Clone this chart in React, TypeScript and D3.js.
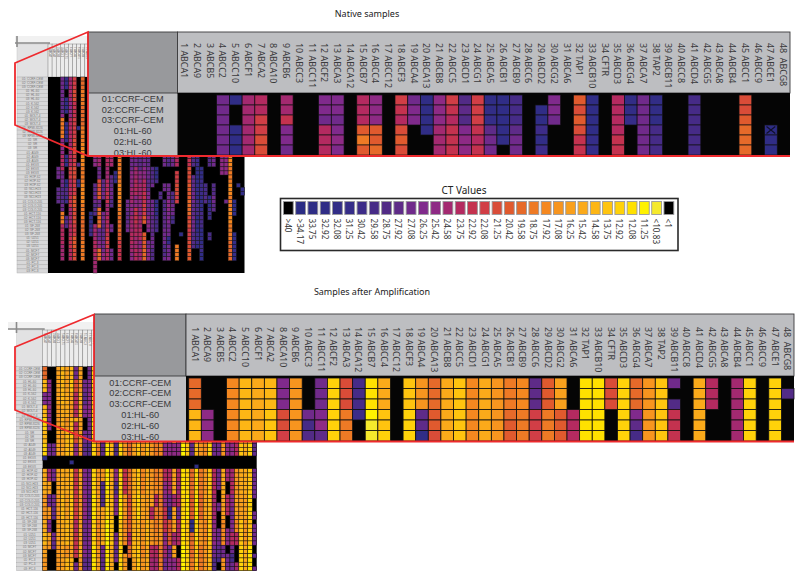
import React from "react";
import * as d3 from "d3";

const genes = ["1 ABCA1","2 ABCA9","3 ABCB5","4 ABCC2","5 ABCC10","6 ABCF1","7 ABCA2","8 ABCA10","9 ABCB6","10 ABCC3","11 ABCC11","12 ABCF2","13 ABCA3","14 ABCA12","15 ABCB7","16 ABCC4","17 ABCC12","18 ABCF3","19 ABCA4","20 ABCA13","21 ABCB8","22 ABCC5","23 ABCD1","24 ABCG1","25 ABCA5","26 ABCB1","27 ABCB9","28 ABCC6","29 ABCD2","30 ABCG2","31 ABCA6","32 TAP1","33 ABCB10","34 CFTR","35 ABCD3","36 ABCG4","37 ABCA7","38 TAP2","39 ABCB11","40 ABCC8","41 ABCD4","42 ABCG5","43 ABCA8","44 ABCB4","45 ABCC1","46 ABCC9","47 ABCE1","48  ABCG8"];
const panelRows = ["01:CCRF-CEM","02:CCRF-CEM","03:CCRF-CEM","01:HL-60","02:HL-60","03:HL-60"];
const thumbLines = ["CCRF-CEM","HL-60","K-562","MOLT-4","RPMI-8226","SR","A549","EKVX","HOP-62","NCI-H23","COLO-205","HCT-116","SF-268","U251","MCF7","PC-3"];
const ctLabels = [">40",">34.17","33.75","32.92","32.08","31.25","30.42","29.58","28.75","27.92","27.08","26.25","25.42","24.58","23.75","22.92","22.08","21.25","20.42","19.58","18.75","17.92","17.08","16.25","15.42","14.58","13.75","12.92","12.08","11.25","<10.83","<1"];
const ctColors = ["#000000","#2b2d84","#2e2d85","#302d86","#322d86","#352d88","#3d2c88","#462b87","#522b86","#5e2b88","#702a8b","#802a8c","#8e2a85","#a32970","#b42a60","#c4324f","#d13e46","#d94c38","#e05a2e","#e66a2a","#ee7a25","#f58820","#f7951f","#f9a01d","#fbaa1a","#fdb615","#ffc40f","#ffd20a","#ffe100","#fff200","#f5e92c","#000000"];

const nativeMain = ["000000","000000","000000","aaaaaa","300333","dddddd","eegghh","000000","ddfbba","000000","000000","bbaeee","bbabcb","000000","eeeiki","ccciij","000000","gfehih","abb000","333300","cccddd","gfefff","898bcc","gggfef","3459aa","333440","7779aa","000000","033646","bba000","000000","ihihff","333355","000000","eeeeff","445000","aaaaaa","444777","000000","000000","777777","000000","000000","000000","hhijjj","000000","000232","000000"];
const amplifiedMain = ["jjjppp","000ccc","000000","llllll","pppppp","oooooo","pppqqq","bbbhhg","mmmmmm","000a78","aaabc9","rrrrrr","hhhkkk","777600","ssstuu","oooqqr","000000","qqqrrr","mmm993","jjjiih","oooooo","qqqqqq","llllll","oooooo","mmmmmm","kkkjii","lllkkk","999ggg","iiikkk","nnniii","000eee","ssssss","ssssss","hhh000","rrrrrr","jjjb97","mmmmmm","qqqqqq","a08fff","000000","oooooo","eee000","000000","dddddd","rrrrrr","000000","rrrrrr","080000"];

const nativeThumb = [
"0.48","0.48","0.22 a.3 0.2 9.4 0.17","a.6 9.3 c.1 k.5 c.4 e.4 a.4 8.4 a.2 k.3 e.5 d.4 0.3",
"4.3 0.2 4.4 0.2 4.5 0.3 5.3 0.3 3.2 8.2 6.2 0.3 8.3 0.11","d.6 c.4 e.5 d.4 e.3 g.3 e.4 f.3 d.4 e.3 f.3 e.3 0.3",
"g.3 h.3 f.4 g.5 h.4 g.3 h.3 g.4 i.3 h.4 g.3 i.3 h.3 0.3","0.12 3.1 0.8 8.1 0.3 3.2 0.21","j.3 k.4 j.5 k.4 l.6 k.4 l.5 k.4 j.5 k.5 0.3","0.48",
"0.33 4.4 6.2 0.9","0.18 c.4 0.4 9.3 a.2 8.3 0.2 d.4 e.4 d.5 0.3","0.19 d.3 a.3 h.3 i.2 a.2 j.5 a.3 c.2 j.3 0.3","0.25 9.3 a.2 0.3 a.3 9.4 a.3 c.2 0.3",
"0.19 e.3 d.3 e.3 f.3 d.3 e.3 f.2 g.3 e.3 0.3","0.19 d.3 0.2 9.3 a.3 8.2 0.4 a.2 0.4 a.3 0.3","0.23 4.3 0.22","0.19 k.3 k.4 l.4 k.4 j.4 i.2 g.2 f.3 0.3","0.48","0.30 a.3 9.3 a.2 0.10",
"0.19 a.4 c.4 d.4 c.3 d.4 e.3 d.2 c.2 0.3","0.19 a.3 d.3 e.4 c.3 f.4 e.3 d.3 e.3 0.3","0.19 9.4 c.3 d.4 c.4 d.3 e.3 c.2 d.3 0.3","0.19 a.3 c.3 e.3 f.3 g.3 i.2 0.2 i.4 j.3 0.3",
"0.19 9.3 a.3 9.3 b.3 a.3 c.3 b.1 0.2 a.2 c.3 0.3","0.22 8.4 a.1 0.3 a.4 9.5 a.3 8.3 0.3","0.22 4.3 7.1 0.4 4.4 7.4 0.10","0.28 8.2 0.18","0.19 a.3 0.4 a.2 0.2 8.3 9.4 a.4 8.3 a.1 0.3","0.19 8.3 0.4 a.4 c.3 b.3 a.3 5.2 a.3 b.1 0.3",
"0.19 a.3 0.6 8.3 a.3 7.2 0.12","0.19 e.3 0.1 g.3 h.3 g.2 0.10 k.4 0.3","0.38 3.1 0.9","0.48","0.19 f.3 h.4 i.4 j.4 h.3 g.3 h.2 i.3 0.3","0.19 8.3 0.2 9.4 a.3 9.3 a.4 8.4 0.6","0.19 6.3 4.4 5.4 7.4 4.4 6.3 3.1 0.6",
"0.22 4.3 6.4 5.4 7.4 4.4 6.2 3.2 0.3","0.26 7.3 8.2 0.17","0.19 8.3 0.7 4.2 2.1 6.3 0.3 7.2 0.8","0.19 a.3 0.4 8.3 a.2 9.2 0.15","0.48","0.19 c.3 c.2 0.24","0.19 c.3 c.2 0.6 a.1 0.17",
"j.6 k.5 j.8 l.3 k.4 l.3 k.3 l.4 k.4 j.5 0.3","0.30 3.4 0.4 4.2 5.5 0.3","0.26 4.1 0.21","0.27 4.2 0.19"
];
const amplifiedThumb = [
"j.3 p.3 b.3 p.3 r.3 p.3 r.3 3.1 0.2 o.6 m.6 o.3 p.3 n.3 m.3","0.3 c.3 b.3 c.3 b.3 0.3 a.3 0.3 d.3 n.3 a.3 m.3 b.3 n.2 m.2 0.5","0.18 a.3 0.3 a.3 0.3 a.3 9.3 0.3 a.2 9.2 0.5",
"n.9 m.6 n.6 0.3 n.6 m.6 n.6 m.6","p.9 o.6 n.6 0.3 o.6 p.6 o.6 n.6","n.6 o.6 m.3 p.6 0.3 o.6 n.6 p.6 m.3 p.3","p.3 q.3 n.3 m.3 p.3 q.3 p.3 0.1 3.1 0.1 p.6 q.6 o.6 n.3 p.3",
"a.3 h.3 e.6 n.1 e.2 h.3 c.3 0.3 f.6 g.6 e.3 f.6 0.1 a.2","n.3 m.3 o.6 n.6 m.3 0.3 n.6 m.6 n.6 o.3 m.3","0.3 a.3 9.3 b.3 0.3 a.3 9.3 0.3 b.6 c.6 a.6 b.3 9.3","a.3 b.3 c.6 a.6 8.3 0.3 a.6 9.6 b.6 a.3 9.3",
"r.6 q.6 s.3 r.6 0.3 r.6 s.6 r.6 s.6","h.3 k.3 j.6 l.3 m.3 k.3 0.3 m.6 n.6 l.6 m.3 n.3","7.3 6.1 0.2 8.3 a.3 b.3 8.3 9.3 0.3 m.3 8.6 n.3 o.6 a.3 9.3","s.3 t.3 s.6 r.3 s.6 0.3 s.6 r.6 t.6 s.6","o.3 r.3 p.6 o.6 p.3 0.3 o.6 p.6 q.6 o.6",
"0.6 a.3 9.3 a.3 b.3 8.3 0.3 c.3 8.3 b.5 0.4 a.3 9.2 a.2 0.2","q.3 r.3 s.6 q.3 r.6 0.3 r.6 s.6 q.6 r.6","m.3 9.2 3.1 m.6 l.3 m.6 0.3 f.6 m.6 l.6 0.2 m.4","j.3 i.2 h.1 j.6 k.3 j.6 0.3 j.6 h.6 i.3 e.3 j.3 0.3",
"o.6 p.6 o.3 n.6 0.3 o.6 p.3 o.6 p.6 n.3","q.6 r.3 p.6 q.6 0.3 q.6 r.6 p.6 q.6","l.6 m.6 l.3 m.6 0.3 l.6 n.6 m.6 l.3 m.3","o.6 n.6 o.3 p.6 0.3 o.6 n.6 p.6 o.6","m.6 n.6 l.3 m.6 0.3 m.6 n.3 e.3 m.6 e.3 d.3",
"k.3 j.1 i.2 k.6 j.3 k.6 0.3 k.3 l.3 e.3 k.6 l.3 e.3 d.3","l.3 k.3 l.6 m.3 l.6 0.3 l.6 k.6 m.6 k.6","9.3 g.3 h.3 e.6 f.3 c.3 0.3 e.3 c.6 f.6 c.3 d.3 a.3","i.3 k.3 a.3 i.3 j.3 a.3 c.3 0.3 e.3 d.3 a.3 4.3 i.6 a.3 c.3","n.3 i.3 m.6 n.3 m.3 c.3 0.3 n.6 d.3 n.6 d.3 n.3 c.3",
"0.3 e.3 d.3 e.3 a.3 c.6 0.3 e.3 d.3 e.3 a.3 e.6 0.3 e.3","s.6 r.3 s.6 t.6 0.3 s.6 r.6 s.6 t.6","s.6 r.6 s.3 q.6 0.3 r.6 s.6 q.6 r.6","h.3 0.3 j.3 h.3 i.3 d.3 9.3 0.3 j.6 i.6 3.3 j.6 k.3","r.6 s.6 r.3 p.6 0.2 3.1 r.6 s.6 r.6 q.6","j.3 b.1 9.1 7.1 k.6 l.3 m.6 0.3 k.6 j.6 m.6 k.6",
"m.6 n.6 m.3 l.6 0.3 m.6 n.6 l.6 m.6","q.6 p.6 q.3 r.6 0.3 q.6 p.6 q.6 p.6","a.1 0.1 8.1 f.3 e.6 c.3 8.3 a.3 0.3 e.6 d.6 c.6 a.3 8.3","0.6 a.3 4.3 0.3 9.3 a.3 0.3 a.5 0.3 a.2 0.4 a.4 9.3 7.1 0.2","o.6 n.6 l.3 m.6 0.3 o.6 n.6 l.6 a.3 m.3",
"e.3 0.3 d.3 c.3 e.3 a.3 c.3 0.3 d.3 0.3 e.5 0.3 c.4 0.2 a.4","0.6 a.3 c.3 a.3 d.3 c.3 0.3 d.3 e.3 c.3 a.3 b.3 e.3 a.2 7.2 a.2","d.6 e.3 c.3 d.3 e.6 0.3 m.6 n.6 l.3 e.3 0.4 d.2","r.6 s.6 r.3 q.6 0.3 o.6 n.6 q.6 r.6","0.6 m.6 n.3 o.6 0.3 o.6 n.6 m.6 o.6",
"r.6 s.3 q.6 r.6 0.3 q.6 r.6 q.6 s.6","0.1 8.1 0.1 a.3 b.6 a.3 9.6 0.3 a.7 0.3 a.2 0.1 a.5 0.2 9.1 0.2 a.1"
];

const panelMarks = [{ gene: 46, row: 3 }];

const level = (c: string) => parseInt(c, 32);
const expandRuns = (s: string) => {
  const out: number[] = [];
  s.split(" ").forEach(tok => { const [l, n] = tok.split("."); for (let i = 0; i < +n; i++) out.push(level(l)); });
  while (out.length < 48) out.push(0);
  return out.slice(0, 48);
};
const font = "'Noto Sans', sans-serif";
const labelFont = "'Liberation Sans', sans-serif";
const colorOf = d3.scaleOrdinal<number, string>().domain(d3.range(ctColors.length)).range(ctColors);
const RED = "#ee2a2e";

function Thumb({ cols, x0, x1, y0, y1, labelX0, headY0, cellStroke, bandX }: any) {
  const x = d3.scaleBand<number>().domain(d3.range(48)).range([x0, x1]);
  const y = d3.scaleBand<number>().domain(d3.range(48)).range([y0, y1]);
  const rowNames = d3.range(48).map(i => `${String(i % 3 + 1).padStart(2, "0")}: ${thumbLines[Math.floor(i / 3)]}`);
  const headH = y0 - headY0;
  return <g>
    <rect x={bandX} y={headY0 - 8} width={x1 - bandX} height={8} fill="#f1f1f1" />
    <rect x={labelX0} y={headY0} width={x0 - labelX0} height={headH} fill="#e2e2e3" stroke="#c8c8c8" strokeWidth={0.5} />
    <line x1={bandX} x2={x0 + 2} y1={headY0 - 1} y2={headY0 - 1} stroke="#8a8a8a" strokeWidth={1.6} />
    <line x1={labelX0} x2={labelX0} y1={headY0 - 8} y2={headY0 + 3} stroke="#8a8a8a" strokeWidth={1.6} />
    {genes.map((g, i) => <g key={g}>
      <rect x={x(i)} y={headY0} width={x.bandwidth()} height={headH} fill="#ececec" stroke="#6e6e6e" strokeWidth={0.4} />
      <text transform={`translate(${x(i)! + x.bandwidth() / 2},${headY0 + 3}) rotate(90)`} fontFamily={font} fontSize={2.6} fill="#555" dominantBaseline="central">{g}</text>
    </g>)}
    {rowNames.map((n, i) => <g key={i}>
      <rect x={labelX0} y={y(i)} width={x0 - labelX0} height={y.bandwidth()} fill="#d8d8d9" stroke="#a8a8a8" strokeWidth={0.4} />
      <text x={(labelX0 + x0) / 2} y={y(i)! + y.bandwidth() / 2} fontFamily={labelFont} fontSize={3} fill="#777" textAnchor="middle" dominantBaseline="central">{n}</text>
    </g>)}
    <rect x={x0} y={y0} width={x1 - x0} height={y1 - y0} fill="#000" />
    {cols.map((s: string, c: number) => expandRuns(s).map((v, r) => v === 0 ? null :
      <rect key={`${c}-${r}`} x={x(c)} y={y(r)} width={x.bandwidth()} height={y.bandwidth()} fill={colorOf(v)} stroke={cellStroke} strokeWidth={0.45} />
    ))}
  </g>;
}

function Panel({ cols, boxX, labelRight, gx0, gx1, top, headBottom, y0, y1, textY, rowYs, marks, frame }: any) {
  const x = d3.scaleBand<number>().domain(d3.range(48)).range([gx0, gx1]);
  const y = d3.scaleBand<number>().domain(d3.range(6)).range([y0, y1]);
  return <g>
    <rect x={boxX} y={top} width={gx1 - boxX} height={y1 - top} fill="#bdbec1" />
    <rect x={boxX} y={top} width={labelRight - boxX} height={headBottom - top} fill="#98999c" stroke="#3a3a3c" strokeWidth={0.9} />
    <rect x={labelRight} y={top} width={gx1 - labelRight} height={headBottom - top} fill="#bdbec1" stroke="#3a3a3c" strokeWidth={0.9} />
    <rect x={labelRight} y={headBottom} width={gx1 - labelRight} height={y1 - headBottom} fill="#050505" />
    {panelRows.map((t, i) => <text key={t} x={(boxX + labelRight) / 2} y={rowYs(i)} textAnchor="middle" dominantBaseline="central" fontFamily={labelFont} fontSize={9.2} fill="#3a3a3c">{t}</text>)}
    {genes.map((g, i) => <text key={g} transform={`translate(${x(i)! + x.bandwidth() / 2},${textY}) rotate(90)`} fontFamily={font} fontSize={8.9} fill="#3a3a3c" dominantBaseline="central" xmlSpace="preserve">{g}</text>)}
    {cols.map((s: string, c: number) => s.split("").map((ch, r) => level(ch) === 0 ? null :
      <rect key={`${c}-${r}`} x={x(c)} y={y(r)} width={x.bandwidth()} height={y.bandwidth()} fill={colorOf(level(ch))} stroke="#111" strokeWidth={frame} />
    ))}
    {marks.map((m: any) => {
      const a = x(m.gene)!, b = y(m.row)!, w = x.bandwidth(), h = y.bandwidth();
      return <g key={m.gene} stroke="#10102a" strokeWidth={1.1}>
        <line x1={a + 2} x2={a + w - 2} y1={b + 1.5} y2={b + h - 1.5} />
        <line x1={a + w - 2} x2={a + 2} y1={b + 1.5} y2={b + h - 1.5} />
      </g>;
    })}
  </g>;
}

export default function App() {
  const lx = d3.scaleBand<number>().domain(d3.range(ctLabels.length)).range([283.4, 283.4 + 12.2 * 32]).paddingInner(0.2);
  const rowA = d3.scaleLinear().domain([0, 5]).range([99, 152.5]);
  const rowB = d3.scaleLinear().domain([0, 5]).range([382.7, 436.5]);
  return (
    <div style={{ position: "absolute", left: 0, top: 0 }}>
      <svg width={800} height={579} viewBox="0 0 800 579" style={{ display: "block", background: "#fff" }}>
        <text x={367} y={13} textAnchor="middle" dominantBaseline="central" fontFamily={font} fontSize={9} fill="#222">Native samples</text>
        <text x={372} y={291} textAnchor="middle" dominantBaseline="central" fontFamily={font} fontSize={9} fill="#222">Samples after Amplification</text>

        <Thumb cols={nativeThumb} x0={48} x1={244.5} y0={77} y1={273} labelX0={17} headY0={44} cellStroke="#1a1a1a" bandX={15} />
        <Thumb cols={amplifiedThumb} x0={42.7} x1={256.7} y0={366.7} y1={570.7} labelX0={16.5} headY0={330} cellStroke="#111" bandX={8} />

        <text x={464} y={190} textAnchor="middle" dominantBaseline="central" fontFamily={font} fontSize={10} fill="#222">CT Values</text>
        <rect x={280.5} y={198.5} width={397.5} height={52} fill="#fff" stroke="#2a2a2a" strokeWidth={1.6} />
        {ctLabels.map((t, i) => <g key={i}>
          <rect x={lx(i)} y={201.5} width={lx.bandwidth()} height={13} fill={ctColors[i]} stroke="#9a9a9c" strokeWidth={0.9} />
          <text transform={`translate(${lx(i)! + lx.bandwidth() / 2},218.5) rotate(90)`} fontFamily={font} fontSize={8.2} fill="#333" dominantBaseline="central">{t}</text>
        </g>)}

        <Panel cols={nativeMain} boxX={88} labelRight={177.5} gx0={178.4} gx1={790} top={32} headBottom={93} y0={95} y1={155} textY={43} rowYs={rowA} marks={panelMarks} frame={0.7} />
        <Panel cols={amplifiedMain} boxX={94.5} labelRight={186} gx0={188.7} gx1={794} top={314} headBottom={376} y0={378} y1={441} textY={327} rowYs={rowB} marks={[]} frame={0.8} />

        <polyline points="790,156 88,156 15,125 15,63 88,32 88,156" fill="none" stroke={RED} strokeWidth={1.8} />
        <polyline points="794,441.5 94,441.5 15,410 15,347 94,314.5 94,441.5" fill="none" stroke={RED} strokeWidth={1.8} />
      </svg>
    </div>
  );
}
